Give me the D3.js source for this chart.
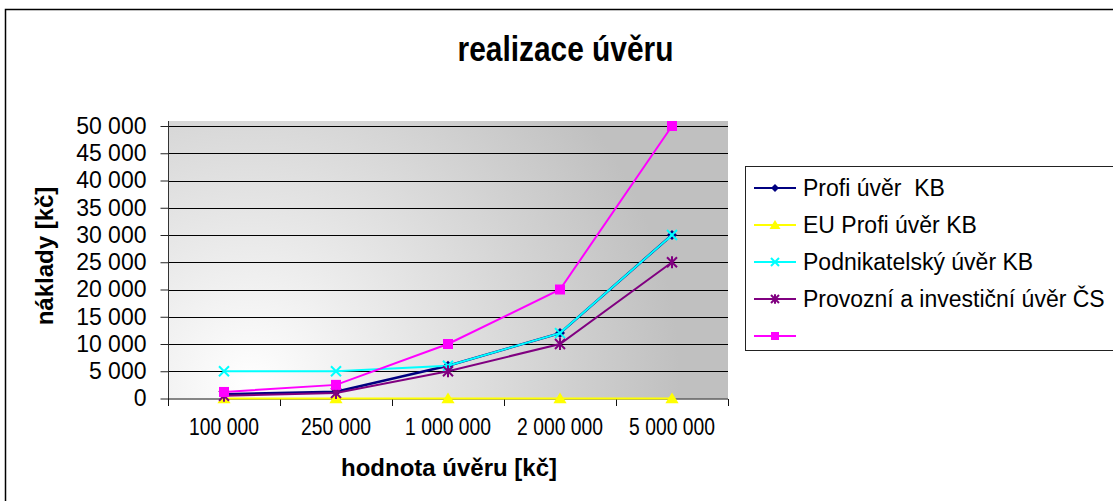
<!DOCTYPE html>
<html>
<head>
<meta charset="utf-8">
<script src="https://cdn.jsdelivr.net/npm/d3@7"></script>
<style>
  html, body { margin: 0; padding: 0; background: #fff; }
  svg { display: block; font-family: "Liberation Sans", Arial, sans-serif; }
  text { white-space: pre; }
</style>
</head>
<body>
<script>
// Data
const categories = ['100 000', '250 000', '1 000 000', '2 000 000', '5 000 000']
const seriesNames = ['Profi úvěr  KB', 'EU Profi úvěr KB', 'Podnikatelský úvěr KB', 'Provozní a investiční úvěr ČS', '']
const profiKB = [800, 1250, 6000, 12000, 30000]
const euProfiKB = [0, 0, 0, 0, 0]
const podnikatelskyKB = [5000, 5000, 6000, 12000, 30000]
const provozniCS = [500, 1000, 5000, 10000, 25000]
const unnamed = [1200, 2500, 10000, 20000, 50000]
const yTicks = [0, 5000, 10000, 15000, 20000, 25000, 30000, 35000, 40000, 45000, 50000]

/*----------------------------------------------------------------------------*/

const width = 1113
const height = 501
const plot = { left: 168, right: 728, top: 121, bottom: 398.5 }

const series = [
  { name: seriesNames[0], values: profiKB, color: '#000080', marker: 'diamond', lw: 2.5 },
  { name: seriesNames[1], values: euProfiKB, color: '#ffff00', marker: 'triangle', lw: 2 },
  { name: seriesNames[2], values: podnikatelskyKB, color: '#00ffff', marker: 'cross', lw: 2 },
  { name: seriesNames[3], values: provozniCS, color: '#800080', marker: 'star', lw: 2 },
  { name: seriesNames[4], values: unnamed, color: '#ff00ff', marker: 'square', lw: 2 },
]

const fmt = v => d3.format(',')(v).replace(/,/g, ' ')

const svg = d3.select('body').append('svg')
  .attr('width', width)
  .attr('height', height)

// gradient for plot area
const defs = svg.append('defs')
const grad = defs.append('radialGradient')
  .attr('id', 'bg')
  .attr('gradientUnits', 'userSpaceOnUse')
  .attr('cx', 250).attr('cy', 385).attr('r', 430)
grad.append('stop').attr('offset', 0).attr('stop-color', '#ffffff')
grad.append('stop').attr('offset', 1).attr('stop-color', '#c0c0c0')

// outer frame
svg.append('rect')
  .attr('x', 5.5).attr('y', 9.5)
  .attr('width', 1200).attr('height', 600)
  .attr('fill', 'none')
  .attr('stroke', '#000')
  .attr('stroke-width', 1.5)

const x = d3.scaleBand()
  .domain(categories)
  .range([plot.left, plot.right])

const y = d3.scaleLinear()
  .domain([0, 50000])
  .range([plot.bottom, 126])

// plot background
svg.append('rect')
  .attr('x', plot.left).attr('y', plot.top)
  .attr('width', plot.right - plot.left)
  .attr('height', plot.bottom - plot.top)
  .attr('fill', 'url(#bg)')

// gridlines
svg.append('g')
  .selectAll('line')
  .data(yTicks.slice(1))
  .enter()
  .append('line')
  .attr('x1', plot.left).attr('x2', plot.right)
  .attr('y1', d => Math.round(y(d)) + 0.5)
  .attr('y2', d => Math.round(y(d)) + 0.5)
  .attr('stroke', '#000')
  .attr('stroke-width', 1.2)

// y axis
const yAxis = svg.append('g')
  .attr('transform', `translate(${plot.left + 0.5},0)`)
  .call(d3.axisLeft(y).tickValues(yTicks).tickSize(8).tickPadding(14).tickFormat(fmt))
yAxis.select('.domain').attr('d', `M0,${plot.top}V406`).attr('stroke', '#333')
yAxis.selectAll('.tick line').attr('stroke', '#222')
yAxis.selectAll('text')
  .attr('font-family', '"Liberation Sans", Arial, sans-serif')
  .attr('font-size', 23)
  .attr('fill', '#000')

// x axis
const xAxis = svg.append('g')
  .attr('transform', `translate(0,${plot.bottom + 0.5})`)
xAxis.append('line')
  .attr('x1', plot.left).attr('x2', plot.right)
  .attr('stroke', '#111')
const bounds = categories.map(c => x(c)).concat([x.range()[1]])
xAxis.selectAll('.tk')
  .data(bounds)
  .enter()
  .append('line')
  .attr('class', 'tk')
  .attr('x1', d => Math.round(d) + 0.5).attr('x2', d => Math.round(d) + 0.5)
  .attr('y1', 0).attr('y2', 7)
  .attr('stroke', '#111')
xAxis.selectAll('.lbl')
  .data(categories)
  .enter()
  .append('text')
  .attr('class', 'lbl')
  .attr('transform', d => `translate(${x(d) + x.bandwidth() / 2},36) scale(0.84,1)`)
  .attr('text-anchor', 'middle')
  .attr('font-size', 23)
  .text(d => d)

// markers
const drawMarker = (g, type, color, s) => {
  if (type === 'diamond') {
    g.append('path').attr('d', `M0,${-s}L${s},0L0,${s}L${-s},0Z`).attr('fill', color)
  } else if (type === 'triangle') {
    g.append('path').attr('d', `M0,${-s}L${s * 1.1},${s * 0.8}L${-s * 1.1},${s * 0.8}Z`).attr('fill', color)
  } else if (type === 'cross') {
    g.append('path').attr('d', `M${-s},${-s}L${s},${s}M${-s},${s}L${s},${-s}`)
      .attr('stroke', color).attr('stroke-width', 2)
  } else if (type === 'star') {
    g.append('path').attr('d', `M${-s},${-s}L${s},${s}M${-s},${s}L${s},${-s}M0,${-s * 1.2}V${s * 1.2}`)
      .attr('stroke', color).attr('stroke-width', 2)
  } else if (type === 'square') {
    g.append('rect').attr('x', -s).attr('y', -s).attr('width', 2 * s).attr('height', 2 * s).attr('fill', color)
  }
}

const line = d3.line()
  .x((d, i) => x(categories[i]) + x.bandwidth() / 2)
  .y(d => y(d))

const sizes = { diamond: 5, triangle: 6, cross: 5, star: 5, square: 5 }

series.forEach(s => {
  svg.append('path')
    .attr('d', line(s.values))
    .attr('fill', 'none')
    .attr('stroke', s.color)
    .attr('stroke-width', s.lw)
  s.values.forEach((v, i) => {
    const g = svg.append('g')
      .attr('transform', `translate(${x(categories[i]) + x.bandwidth() / 2},${y(v)})`)
    drawMarker(g, s.marker, s.color, sizes[s.marker])
  })
})

// titles
svg.append('text')
  .attr('transform', 'translate(565.5,61) scale(0.83,1)')
  .attr('text-anchor', 'middle')
  .attr('font-weight', 'bold')
  .attr('font-size', 36)
  .text('realizace úvěru')

svg.append('text')
  .attr('x', 449).attr('y', 476)
  .attr('text-anchor', 'middle')
  .attr('font-weight', 'bold')
  .attr('font-size', 24)
  .text('hodnota úvěru [kč]')

svg.append('text')
  .attr('transform', 'translate(53,256) rotate(-90)')
  .attr('text-anchor', 'middle')
  .attr('font-weight', 'bold')
  .attr('font-size', 24)
  .text('náklady [kč]')

// legend
const legend = svg.append('g')
legend.append('rect')
  .attr('x', 745.5).attr('y', 166.5)
  .attr('width', 400).attr('height', 184)
  .attr('fill', '#fff')
  .attr('stroke', '#222')
  .attr('stroke-width', 1)

const ly = d3.scalePoint()
  .domain(d3.range(series.length))
  .range([188, 336])

series.forEach((s, i) => {
  const g = legend.append('g').attr('transform', `translate(0,${ly(i)})`)
  g.append('line')
    .attr('x1', 754).attr('x2', 796)
    .attr('stroke', s.color).attr('stroke-width', 2)
  const m = g.append('g').attr('transform', 'translate(775,0)')
  drawMarker(m, s.marker, s.color, s.marker === 'triangle' ? 5 : 4)
  g.append('text')
    .attr('x', 803).attr('y', 8)
    .attr('font-size', 23)
    .text(s.name)
})
</script>
</body>
</html>
